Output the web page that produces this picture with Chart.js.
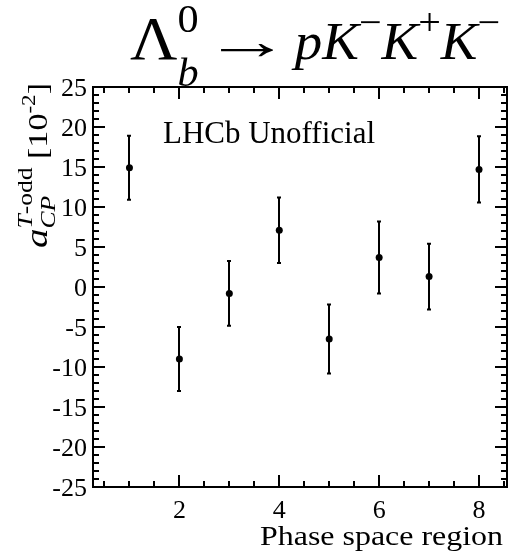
<!DOCTYPE html>
<html>
<head>
<meta charset="utf-8">
<script src="https://cdn.jsdelivr.net/npm/chart.js@4.4.0/dist/chart.umd.min.js"></script>
<style>
  html, body { margin: 0; padding: 0; background: #fff; }
  #grafico { display: block; }
</style>
</head>
<body>
<canvas id="grafico" width="518" height="557"></canvas>
<script>
// Regiões do espaço de fase e assimetria T-odd medida (em 10^-2)
const regioes = [1, 2, 3, 4, 5, 6, 7, 8];
const assimetria = [14.9, -9.0, -0.8, 7.1, -6.5, 3.7, 1.3, 14.7];
const erros = [4.0, 4.0, 4.05, 4.1, 4.3, 4.5, 4.1, 4.15];

// Rótulos dos eixos
const ticksX = [2, 4, 6, 8];
const ticksY = [-25, -20, -15, -10, -5, 0, 5, 10, 15, 20, 25];

const SERIF = '"Liberation Serif", "Times New Roman", serif';
const TAM_TICK = 26;
const ESC_TICK = 1.0;

function fonte(tam, italico) {
    return (italico ? 'italic ' : '') + tam + 'px ' + SERIF;
}

/**
 * Desenha texto composto (sub/sobrescritos) ajustado a uma largura
 * segs: {t, tam, it, dy, fixo, esc, gap} - fixo = não avança o cursor
 */
function textoRico(ctx, segs, x, y, largura) {
    let total = 0;
    const avancos = segs.map(s => {
        ctx.font = fonte(s.tam, s.it);
        const w = ctx.measureText(s.t).width * (s.esc || 1) + (s.gap || 0);
        return s.fixo ? 0 : w;
    });
    avancos.forEach(w => total += w);
    const sx = largura ? largura / total : 1;
    ctx.save();
    ctx.translate(x, y);
    ctx.scale(sx, 1);
    ctx.fillStyle = '#000';
    ctx.textBaseline = 'alphabetic';
    ctx.textAlign = 'left';
    let cx = 0;
    segs.forEach((s, i) => {
        ctx.font = fonte(s.tam, s.it);
        ctx.save();
        ctx.translate(cx + (s.gap || 0) / 2, s.dy || 0);
        ctx.scale(s.esc || 1, 1);
        ctx.fillText(s.t, 0, 0);
        ctx.restore();
        cx += avancos[i];
    });
    ctx.restore();
}

function rotuloTick(ctx, txt, x, y, alinhamento) {
    ctx.save();
    ctx.translate(x, y);
    ctx.scale(ESC_TICK, 1);
    ctx.font = fonte(TAM_TICK);
    ctx.textAlign = alinhamento;
    ctx.textBaseline = 'alphabetic';
    ctx.fillStyle = '#000';
    ctx.fillText(txt, 0, 0);
    ctx.restore();
}

const molduraPlugin = {
    id: 'moldura',
    beforeDatasetsDraw(chart) {
        const { ctx, scales: { x, y } } = chart;
        ctx.save();
        ctx.strokeStyle = '#000';
        ctx.lineWidth = 2;
        regioes.forEach((r, i) => {
            const px = Math.round(x.getPixelForValue(r));
            const y1 = y.getPixelForValue(assimetria[i] + erros[i]);
            const y2 = y.getPixelForValue(assimetria[i] - erros[i]);
            ctx.beginPath();
            ctx.moveTo(px, y1); ctx.lineTo(px, y2);
            ctx.moveTo(px - 2, y1); ctx.lineTo(px + 2, y1);
            ctx.moveTo(px - 2, y2); ctx.lineTo(px + 2, y2);
            ctx.stroke();
        });
        ctx.restore();
    },
    afterDraw(chart) {
        const { ctx, chartArea: a, scales: { x, y } } = chart;
        ctx.save();
        ctx.strokeStyle = '#000';
        ctx.lineWidth = 2;
        ctx.strokeRect(a.left, a.top, a.right - a.left, a.bottom - a.top);

        ctx.beginPath();
        // marcas do eixo x (para dentro, em baixo e em cima)
        for (let i = 1; i <= 17; i++) {
            const v = i * 0.5;
            const px = Math.round(x.getPixelForValue(v));
            const len = v % 2 === 0 ? 12 : 6;
            ctx.moveTo(px, a.bottom); ctx.lineTo(px, a.bottom - len);
            ctx.moveTo(px, a.top); ctx.lineTo(px, a.top + len);
        }
        // marcas do eixo y (esquerda e direita)
        for (let v = -24; v <= 24; v++) {
            const py = Math.round(y.getPixelForValue(v));
            const len = v % 5 === 0 ? 12 : 6;
            ctx.moveTo(a.left, py); ctx.lineTo(a.left + len, py);
            ctx.moveTo(a.right, py); ctx.lineTo(a.right - len, py);
        }
        ctx.stroke();

        // rótulos numéricos
        x.ticks.forEach(t => {
            rotuloTick(ctx, String(t.value), x.getPixelForValue(t.value), a.bottom + 31, 'center');
        });
        y.ticks.forEach(t => {
            rotuloTick(ctx, String(t.value), a.left - 6, y.getPixelForValue(t.value) + 8.5, 'right');
        });

        // Título do decaimento
        textoRico(ctx, [
            { t: 'Λ', tam: 62 },
            { t: '0', tam: 40, dy: -27, fixo: true },
            { t: 'b', tam: 40, it: true, dy: 27 },
            { t: '→', tam: 52, esc: 1.6, gap: 8 },
            { t: 'p', tam: 52, it: true },
            { t: 'K', tam: 52, it: true },
            { t: '−', tam: 38, dy: -24 },
            { t: 'K', tam: 52, it: true },
            { t: '+', tam: 38, dy: -24 },
            { t: 'K', tam: 52, it: true },
            { t: '−', tam: 38, dy: -24 }
        ], 130, 59, 370);

        // Rótulo LHCb
        textoRico(ctx, [{ t: 'LHCb Unofficial', tam: 31 }], 163, 143, 212);

        // Título do eixo x
        textoRico(ctx, [{ t: 'Phase space region', tam: 27 }], 260, 545, 243);

        // Título do eixo y (rotacionado)
        ctx.save();
        ctx.translate(47, 248);
        ctx.rotate(-Math.PI / 2);
        textoRico(ctx, [
            { t: 'a', tam: 32, it: true },
            { t: 'CP', tam: 21, it: true, dy: 8, fixo: true },
            { t: 'T', tam: 21, it: true, dy: -15 },
            { t: '-odd', tam: 21, dy: -15 },
            { t: ' [10', tam: 28 },
            { t: '-2', tam: 19, dy: -12 },
            { t: ']', tam: 28 }
        ], 0, 0, 165);
        ctx.restore();

        ctx.restore();
    }
};

new Chart(document.getElementById('grafico'), {
    type: 'scatter',
    data: {
        datasets: [{
            data: regioes.map((r, i) => ({ x: r, y: assimetria[i] })),
            pointRadius: 3.5,
            pointBackgroundColor: '#000',
            pointBorderWidth: 0
        }]
    },
    options: {
        responsive: false,
        animation: false,
        devicePixelRatio: 1,
        layout: { padding: { top: 87, right: 11, left: 0, bottom: 0 } },
        plugins: {
            legend: { display: false },
            tooltip: { enabled: false }
        },
        scales: {
            x: {
                type: 'linear',
                min: 0.27,
                max: 8.56,
                grid: { display: false, drawTicks: false },
                border: { display: false },
                afterBuildTicks: s => { s.ticks = ticksX.map(v => ({ value: v })); },
                afterFit: s => { s.height = 70; },
                ticks: { display: false }
            },
            y: {
                min: -25,
                max: 25,
                grid: { display: false, drawTicks: false },
                border: { display: false },
                afterBuildTicks: s => { s.ticks = ticksY.map(v => ({ value: v })); },
                afterFit: s => { s.width = 93; },
                ticks: { display: false }
            }
        }
    },
    plugins: [molduraPlugin]
});
</script>
</body>
</html>
